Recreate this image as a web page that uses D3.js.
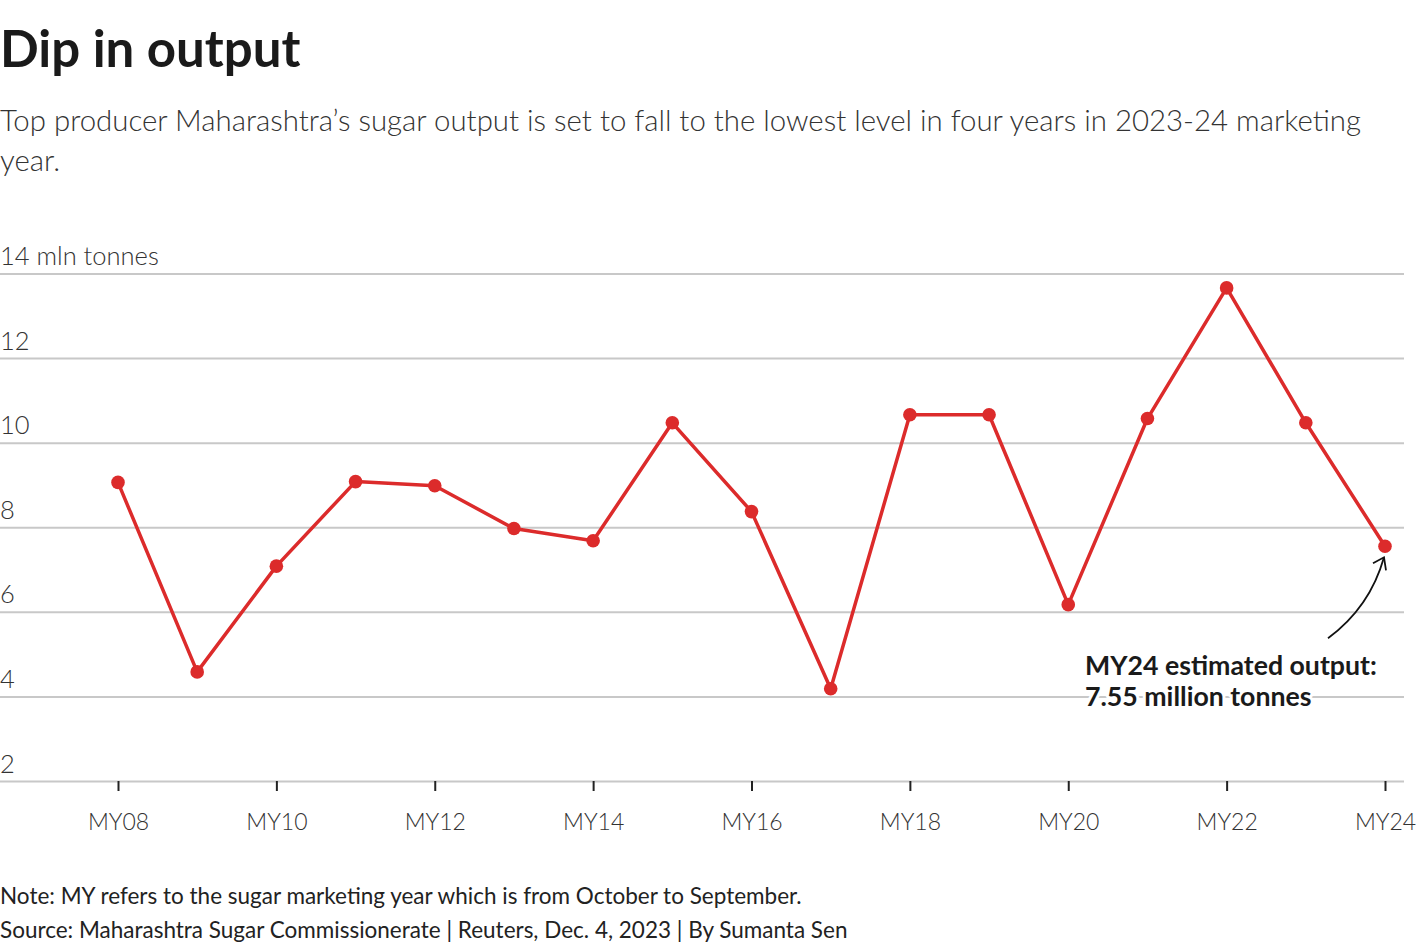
<!DOCTYPE html>
<html>
<head>
<meta charset="utf-8">
<script src="https://cdn.jsdelivr.net/npm/d3@7"></script>
<style>
  html, body { margin: 0; padding: 0; background: #fff; }
  svg { display: block; font-family: Lato, "Noto Sans", sans-serif; }
</style>
</head>
<body>
<svg id="chart" width="1420" height="950"></svg>
<script>
// Maharashtra sugar output, million tonnes, marketing years MY08..MY24
const years = [2008, 2009, 2010, 2011, 2012, 2013, 2014, 2015, 2016,
               2017, 2018, 2019, 2020, 2021, 2022, 2023, 2024];
const output = [9.06, 4.58, 7.08, 9.08, 8.98, 7.97, 7.68, 10.47, 8.37,
                4.18, 10.66, 10.66, 6.17, 10.57, 13.66, 10.47, 7.55];
const yTicks = [2, 4, 6, 8, 10, 12, 14];
const xTicks = [2008, 2010, 2012, 2014, 2016, 2018, 2020, 2022, 2024];

const svg = d3.select('#chart');

// Title block
svg.append('text')
    .attr('x', 0).attr('y', 67)
    .attr('font-size', 51).attr('font-weight', 700)
    .attr('fill', '#1a1a1a')
    .text('Dip in output');

const sub = svg.append('text')
    .attr('font-size', 29.4).attr('font-weight', 300)
    .attr('fill', '#333');
sub.append('tspan').attr('x', 0).attr('y', 131)
    .text('Top producer Maharashtra’s sugar output is set to fall to the lowest level in four years in 2023-24 marketing');
sub.append('tspan').attr('x', 0).attr('y', 171).text('year.');

// Scales
const x = d3.scaleLinear().domain([2008, 2024]).range([118, 1385]);
const y = d3.scaleLinear().domain([2, 14]).range([781, 273.5]);

// Gridlines + y labels
const yAxis = svg.append('g')
    .call(d3.axisRight(y).tickValues(yTicks).tickSize(1404).tickFormat(d => d === 14 ? '14 mln tonnes' : d))
    .attr('font-family', null).attr('font-size', null);
yAxis.select('.domain').remove();
yAxis.selectAll('.tick line').attr('stroke', '#c8c8c8').attr('stroke-width', 2);
yAxis.selectAll('.tick text')
    .attr('x', 0).attr('dy', -9)
    .attr('text-anchor', 'start')
    .attr('font-size', 25.5).attr('font-weight', 300)
    .attr('fill', '#333');

// X axis ticks
const xAxis = svg.append('g')
    .attr('transform', `translate(0,${y(2)})`)
    .call(d3.axisBottom(x).tickValues(xTicks).tickSize(10).tickPadding(23)
        .tickFormat(d => 'MY' + String(d % 100).padStart(2, '0')))
    .attr('font-family', null).attr('font-size', null);
xAxis.select('.domain').remove();
xAxis.selectAll('.tick line').attr('stroke', '#222').attr('stroke-width', 2);
xAxis.selectAll('.tick text')
    .attr('font-size', 23).attr('font-weight', 300)
    .attr('fill', '#333');

// Line + dots
const pts = years.map((yr, i) => [yr, output[i]]);
const line = d3.line().x(d => x(d[0])).y(d => y(d[1]));

svg.append('path')
    .datum(pts)
    .attr('d', line)
    .attr('fill', 'none')
    .attr('stroke', '#dc2b2b')
    .attr('stroke-width', 3.5)
    .attr('stroke-linejoin', 'round');

svg.append('g').selectAll('circle')
    .data(pts)
    .enter()
    .append('circle')
    .attr('cx', d => x(d[0]))
    .attr('cy', d => y(d[1]))
    .attr('r', 6.8)
    .attr('fill', '#dc2b2b');

// Annotation for the last point
const last = pts[pts.length - 1];
const tipX = x(last[0]) - 1, tipY = y(last[1]) + 11;
const startX = tipX - 56, startY = tipY + 81;
svg.append('path')
    .attr('d', `M${startX},${startY} Q${tipX - 14},${tipY + 50} ${tipX},${tipY}`)
    .attr('fill', 'none').attr('stroke', '#111').attr('stroke-width', 1.8);
svg.append('path')
    .attr('d', `M${tipX - 11},${tipY + 6} L${tipX},${tipY} L${tipX + 2},${tipY + 13}`)
    .attr('fill', 'none').attr('stroke', '#111').attr('stroke-width', 1.8);

const note = svg.append('text')
    .attr('font-size', 26.7).attr('font-weight', 700)
    .attr('fill', '#1a1a1a')
    .attr('stroke', '#fff').attr('stroke-width', 6)
    .attr('paint-order', 'stroke')
    .attr('stroke-linejoin', 'round');
note.append('tspan').attr('x', 1085).attr('y', 675).text('MY24 estimated output:');
note.append('tspan').attr('x', 1085).attr('y', 706).text(d3.format('.2f')(last[1]) + ' million tonnes');

// Footer
const foot = svg.append('text')
    .attr('font-size', 22.5).attr('font-weight', 400)
    .attr('fill', '#222');
foot.append('tspan').attr('x', 0).attr('y', 904)
    .text('Note: MY refers to the sugar marketing year which is from October to September.');
foot.append('tspan').attr('x', 0).attr('y', 938)
    .text('Source: Maharashtra Sugar Commissionerate | Reuters, Dec. 4, 2023 | By Sumanta Sen');
</script>
</body>
</html>
